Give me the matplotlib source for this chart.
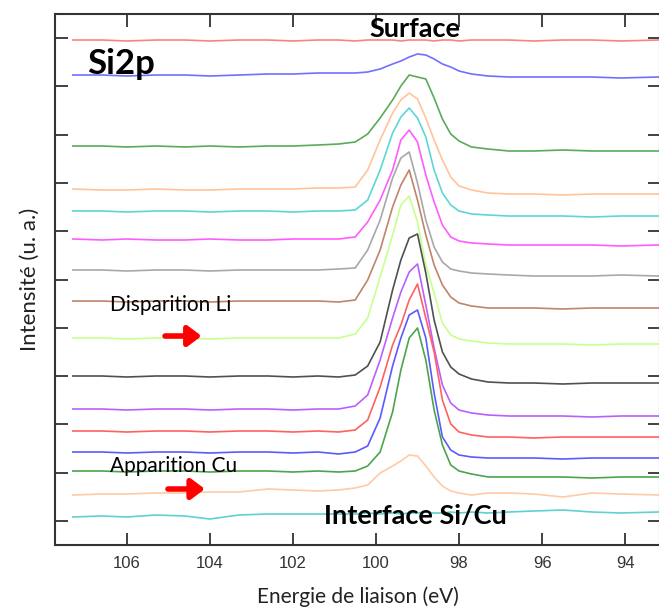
import matplotlib
matplotlib.use('Agg')
import matplotlib.pyplot as plt
import numpy as np

# binding energy grid (eV), shared by all spectra
energy = [107.3, 106.6, 106.0, 105.3, 104.6, 104.0, 103.3, 102.6, 102.0, 101.4,
          100.9, 100.5, 100.2, 99.9, 99.6, 99.4, 99.2, 99.0, 98.8, 98.6,
          98.4, 98.2, 98.0, 97.7, 97.3, 96.8, 96.2, 95.5, 94.8, 94.1, 93.2]

# stacked Si2p spectra, top (surface) to bottom (interface Si/Cu), offsets included
spec_01 = [505, 505, 504, 505, 505, 504, 505, 505, 504, 505, 505, 504, 505, 505, 505, 504,
           505, 505, 505, 504, 505, 505, 504, 505, 505, 505, 504, 505, 505, 504, 505]
spec_02 = [470, 470, 469, 470, 470, 469, 470, 471, 471, 472, 472, 472, 473, 476, 481, 484,
           488, 491, 490, 486, 481, 478, 474, 471, 469, 468, 468, 468, 468, 467, 468]
spec_03 = [399, 399, 398, 399, 398, 399, 398, 399, 399, 400, 401, 403, 411, 427, 445, 459,
           470, 468, 466, 447, 426, 411, 404, 398, 396, 394, 394, 395, 394, 394, 394]
spec_04 = [356, 355, 355, 356, 355, 355, 356, 356, 356, 357, 357, 358, 375, 405, 432, 445,
           452, 446, 427, 405, 385, 368, 359, 355, 352, 351, 351, 350, 351, 351, 351]
spec_05 = [334, 334, 333, 334, 334, 333, 334, 334, 333, 334, 334, 335, 345, 375, 412, 428,
           437, 427, 408, 375, 352, 340, 334, 331, 330, 329, 329, 329, 328, 329, 329]
spec_06 = [306, 305, 306, 305, 305, 306, 305, 305, 306, 306, 306, 308, 323, 345, 375, 405,
           415, 403, 370, 343, 320, 308, 304, 302, 301, 300, 300, 300, 300, 299, 300]
spec_07 = [275, 275, 274, 275, 275, 274, 275, 275, 275, 275, 276, 277, 295, 325, 367, 387,
           393, 362, 325, 298, 283, 276, 274, 272, 271, 270, 269, 269, 269, 270, 269]
spec_08 = [244, 244, 243, 244, 244, 243, 244, 244, 244, 244, 243, 245, 265, 295, 338, 360,
           375, 345, 310, 280, 260, 248, 242, 239, 237, 237, 237, 236, 237, 237, 237]
spec_09 = [207, 207, 206, 207, 207, 206, 207, 207, 207, 207, 207, 211, 227, 268, 310, 340,
           349, 323, 280, 252, 222, 210, 206, 204, 202, 201, 201, 201, 200, 201, 201]
spec_10 = [169, 169, 168, 169, 169, 168, 169, 169, 168, 169, 168, 170, 179, 203, 255, 285,
           307, 311, 272, 225, 193, 178, 171, 166, 163, 162, 162, 161, 162, 162, 162]
spec_11 = [136, 136, 135, 136, 136, 135, 136, 136, 135, 136, 136, 139, 150, 185, 227, 253,
           273, 281, 240, 197, 160, 142, 135, 132, 130, 129, 129, 129, 128, 129, 129]
spec_12 = [114, 114, 113, 114, 114, 113, 114, 114, 113, 114, 113, 115, 125, 158, 200, 220,
           245, 261, 227, 193, 145, 121, 113, 110, 108, 108, 107, 108, 108, 108, 108]
spec_13 = [93, 93, 92, 93, 93, 92, 93, 93, 92, 93, 91, 93, 99, 127, 179, 207,
           230, 235, 207, 152, 108, 95, 90, 88, 87, 87, 87, 86, 87, 87, 87]
spec_14 = [74, 74, 73, 74, 74, 73, 74, 74, 73, 74, 73, 74, 79, 93, 133, 175,
           207, 217, 185, 135, 100, 80, 74, 71, 68, 68, 68, 68, 67, 68, 68]
spec_15 = [50, 51, 51, 52, 52, 53, 53, 56, 55, 54, 55, 57, 60, 72, 79, 84,
           90, 89, 79, 68, 59, 54, 52, 50, 52, 52, 51, 48, 52, 51, 50]
spec_16 = [28, 29, 28, 30, 29, 26, 30, 31, 31, 31, 31, 31, 32, 31, 32, 31,
           32, 32, 33, 32, 32, 33, 32, 33, 32, 33, 34, 35, 33, 32, 33]

spectra = [spec_01, spec_02, spec_03, spec_04, spec_05, spec_06, spec_07, spec_08,
           spec_09, spec_10, spec_11, spec_12, spec_13, spec_14, spec_15, spec_16]
colors = ['#ff8080', '#7070ff', '#5aaa5a', '#ffc49a', '#5cd6d6', '#ff5cff', '#a8a8a8', '#c08468',
          '#c8ff90', '#505050', '#b860ff', '#ff6060', '#5a5aff', '#4ca44c', '#ffcaa6', '#60d0d0']

x_ticks = [106, 104, 102, 100, 98, 96, 94]

fig = plt.figure(figsize=(6.59, 6.09), dpi=100)
ax = fig.add_axes([55/659, 64/609, 605/659, 531/609])

for spec, col in zip(spectra, colors):
    ax.plot(energy, spec, color=col, lw=1.2)

ax.set_xlim(107.73, 93.16)
ax.set_ylim(0, 531)
ax.set_xticks(x_ticks)
ax.set_xticklabels([str(t) for t in x_ticks], fontsize=12, color='#333333',
                   family='Liberation Sans')
ax.set_yticks(np.linspace(24, 507, 11))
ax.set_yticklabels([])
ax.tick_params(direction='in', length=9, width=1.3, color='#333333',
               top=True, right=True, pad=8)
for s in ax.spines.values():
    s.set_color('#333333')
    s.set_linewidth(1.5)

ax.set_xlabel('Energie de liaison (eV)', fontsize=15, family='Lato', color='#222222', labelpad=11)
ax.set_ylabel('Intensité (u. a.)', fontsize=16, family='Lato', color='#222222', labelpad=3)

ax.text(106.96, 481, 'Si2p', fontsize=25, fontweight='bold', family='Lato', va='center', ha='left')
ax.text(99.07, 516, 'Surface', fontsize=19.5, fontweight='bold', family='Lato', va='center', ha='center')
ax.text(99.04, 29, 'Interface Si/Cu', fontsize=19.5, fontweight='bold', family='Lato',
        va='center', ha='center')
ax.text(106.41, 240, 'Disparition Li', fontsize=15, family='Lato', va='center', ha='left')
ax.text(106.41, 79, 'Apparition Cu', fontsize=15, family='Lato', va='center', ha='left')

arrow = dict(arrowstyle='-|>,head_length=0.8,head_width=0.6', color='#ff0000', lw=4,
             shrinkA=0, shrinkB=0)
ax.annotate('', xy=(104.2, 209), xytext=(105.08, 209), arrowprops=arrow)
ax.annotate('', xy=(104.12, 56), xytext=(105.01, 56), arrowprops=arrow)

plt.savefig('out.png', dpi=100)
